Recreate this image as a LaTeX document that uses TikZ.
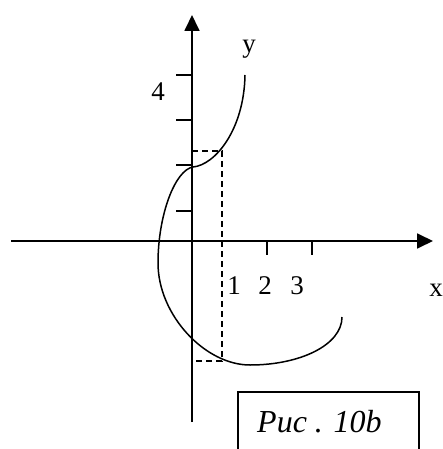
\documentclass[tikz,border=0pt]{standalone}
\usepackage{fontspec}
\setmainfont{Liberation Serif}
\usetikzlibrary{arrows.meta,positioning}
\tikzset{axe/.style={line width=1.8pt,-{Triangle[length=16pt,width=15pt]}},grad/.style={line width=1.6pt},courbe/.style={line width=1.5pt},guide/.style={line width=1.5pt,dash pattern=on 6pt off 4pt},etiq/.style={font=\fontsize{27}{31}\selectfont,inner sep=0pt},cadre/.style={draw,line width=1.5pt,minimum width=181pt,minimum height=70pt,inner sep=0pt}}
\begin{document}
\begin{tikzpicture}[x=1pt,y=-1pt]
\useasboundingbox (0,0) rectangle (443,449);
\coordinate (xstart) at (11,241);
\coordinate (xend) at (433,241);
\coordinate (ybot) at (192,422);
\coordinate (ytop) at (192,15);
\coordinate (guidetop) at (222,151);
\coordinate (guidebot) at (222,361);
\coordinate (axetop) at (192,151);
\coordinate (axebot) at (192,361);
\draw[axe] (xstart)--(xend);
\draw[axe] (ybot)--(ytop);
\foreach \yy in {75,120,165,211} \draw[grad] (176,\yy)--(192,\yy);
\foreach \xx in {267,312} \draw[grad] (\xx,241)--(\xx,255);
\draw[guide] (axetop)--(guidetop)--(guidebot)--(axebot);
% courbe
\draw[courbe] (245,75) .. controls (244,130) and (215,165) .. (193,167)
  .. controls (175,170) and (158,215) .. (158,263)
  .. controls (158,315) and (205,365) .. (250,365)
  .. controls (300,365) and (342,345) .. (342,317);
\node[etiq] (quatre) at (158,92) {4};
\node[etiq] (ylab) at (249,49) {y};
\node[etiq] (un) at (234,286) {1};
\node[etiq] (deux) at (265,286) {2};
\node[etiq] (trois) at (297,286) {3};
\node[etiq,anchor=base east] (xlab) at (443,296) {x};
\node[cadre] (legende) at (328.5,427) {};
\node[anchor=base west,inner sep=0pt,font=\fontsize{32}{36}\selectfont\itshape] (titre) at (257,432) {Рис . 10b};
\end{tikzpicture}
\end{document}
